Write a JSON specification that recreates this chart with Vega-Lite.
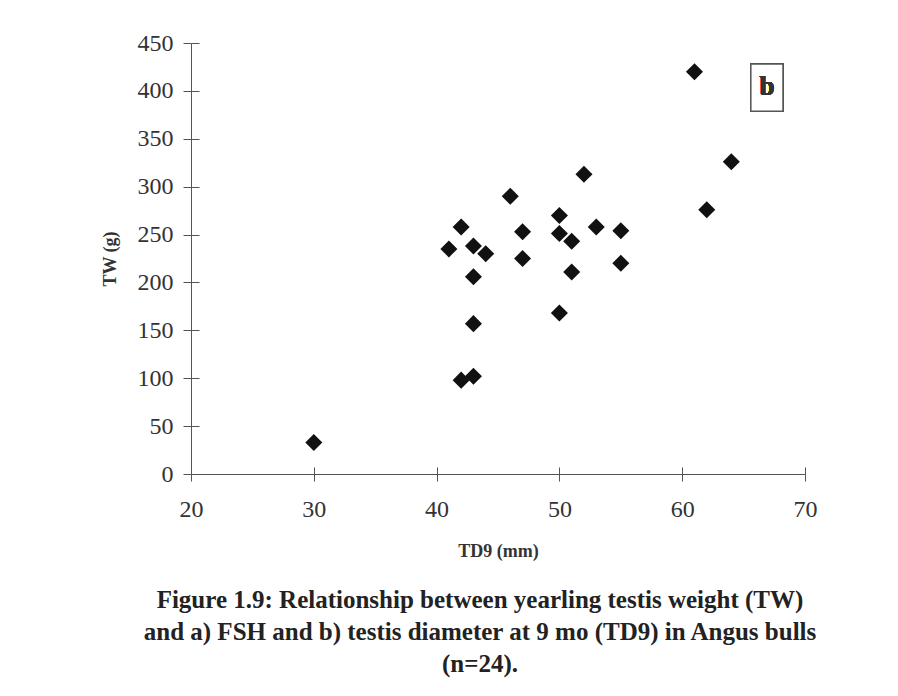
{
  "$schema": "https://vega.github.io/schema/vega-lite/v6.json",
  "width": 614,
  "height": 431,
  "autosize": "none",
  "padding": {"left": 191, "top": 43, "right": 93, "bottom": 222},
  "background": "white",
  "config": {"view": {"stroke": null}},
  "title": {
    "text": ["Figure 1.9: Relationship between  yearling testis weight (TW)", "and a) FSH and b) testis diameter at 9 mo (TD9) in Angus bulls", "(n=24)."],
    "orient": "bottom",
    "anchor": "middle",
    "font": "Liberation Serif",
    "fontSize": 25,
    "fontWeight": "bold",
    "color": "#222222",
    "lineHeight": 32,
    "offset": 28,
    "dx": -18
  },
  "data": {
    "values": [
      {"TD9": 30, "TW": 33},
      {"TD9": 41, "TW": 235},
      {"TD9": 42, "TW": 258},
      {"TD9": 42, "TW": 98},
      {"TD9": 43, "TW": 102},
      {"TD9": 43, "TW": 238},
      {"TD9": 43, "TW": 206},
      {"TD9": 43, "TW": 157},
      {"TD9": 44, "TW": 230},
      {"TD9": 46, "TW": 290},
      {"TD9": 47, "TW": 253},
      {"TD9": 47, "TW": 225},
      {"TD9": 50, "TW": 270},
      {"TD9": 50, "TW": 251},
      {"TD9": 50, "TW": 168},
      {"TD9": 51, "TW": 243},
      {"TD9": 51, "TW": 211},
      {"TD9": 52, "TW": 313},
      {"TD9": 53, "TW": 258},
      {"TD9": 55, "TW": 254},
      {"TD9": 55, "TW": 220},
      {"TD9": 61, "TW": 420},
      {"TD9": 62, "TW": 276},
      {"TD9": 64, "TW": 326}
    ]
  },
  "layer": [
    {
      "mark": {"type": "point", "shape": "diamond", "filled": true, "size": 290, "color": "#111111", "opacity": 1},
      "encoding": {
        "x": {
          "field": "TD9", "type": "quantitative",
          "scale": {"domain": [20, 70], "nice": false, "zero": false},
          "axis": {
            "orient": "bottom", "values": [20, 30, 40, 50, 60, 70], "grid": false,
            "title": "TD9 (mm)", "titleFont": "Liberation Serif", "titleFontSize": 18, "titleFontWeight": "bold", "titleColor": "#333333", "titlePadding": 21,
            "labelFont": "Liberation Serif", "labelFontSize": 24, "labelColor": "#333333", "labelPadding": 16, "labelFlush": false,
            "domainColor": "#555555", "tickColor": "#555555", "tickSize": 7
          }
        },
        "y": {
          "field": "TW", "type": "quantitative",
          "scale": {"domain": [0, 450], "nice": false},
          "axis": {
            "orient": "left", "values": [0, 50, 100, 150, 200, 250, 300, 350, 400, 450], "grid": false,
            "title": "TW (g)", "titleFont": "Liberation Serif", "titleFontSize": 18, "titleFontWeight": "bold", "titleColor": "#333333", "titlePadding": 18,
            "labelFont": "Liberation Serif", "labelFontSize": 24, "labelColor": "#333333", "labelPadding": 10, "labelFlush": false,
            "domainColor": "#555555", "tickColor": "#555555", "tickSize": 8
          }
        }
      }
    },
    {
      "mark": {"type": "point", "opacity": 0},
      "encoding": {
        "x": {
          "field": "TD9", "type": "quantitative",
          "axis": {"orient": "bottom", "offset": -7, "values": [20, 30, 40, 50, 60, 70], "grid": false, "title": null, "labels": false, "domain": false, "tickColor": "#555555", "tickSize": 7}
        },
        "y": {
          "field": "TW", "type": "quantitative",
          "axis": {"orient": "left", "offset": -8, "values": [0, 50, 100, 150, 200, 250, 300, 350, 400, 450], "grid": false, "title": null, "labels": false, "domain": false, "tickColor": "#555555", "tickSize": 8}
        }
      }
    },
    {
      "mark": {"type": "rect", "fill": "white", "stroke": "#555555", "strokeWidth": 1.2},
      "encoding": {
        "x": {"datum": 65.6, "type": "quantitative", "axis": null},
        "x2": {"datum": 68.2},
        "y": {"datum": 428, "type": "quantitative", "axis": null},
        "y2": {"datum": 379}
      }
    },
    {
      "mark": {"type": "text", "text": "b", "font": "Liberation Serif", "fontSize": 27, "fontWeight": "bold", "color": "#333333", "align": "center", "baseline": "middle"},
      "encoding": {
        "x": {"datum": 66.9, "type": "quantitative", "axis": null},
        "y": {"datum": 404, "type": "quantitative", "axis": null}
      }
    }
  ],
  "resolve": {"axis": {"x": "independent", "y": "independent"}}
}
